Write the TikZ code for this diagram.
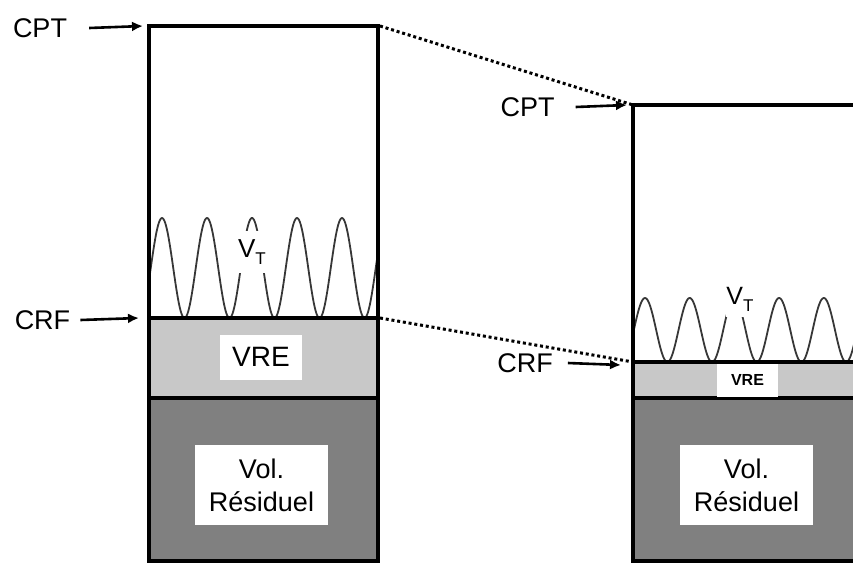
\documentclass[tikz,border=0pt]{standalone}
\usepackage{fontspec}
\setmainfont{Liberation Sans}
\usetikzlibrary{arrows.meta}
\definecolor{vregray}{RGB}{200,200,200}
\definecolor{resgray}{RGB}{128,128,128}
\definecolor{wavegray}{RGB}{55,55,55}
\newcommand{\VT}{V\raisebox{-7pt}{\fontsize{17}{17}\selectfont T}}
\begin{document}
\begin{tikzpicture}[x=1pt,y=-1pt,
  boxline/.style={line width=3.4pt, black},
  lbl/.style={font=\fontsize{27}{30}\selectfont, inner sep=0pt},
  arr/.style={line width=2.6pt, -{Latex[length=11pt,width=10pt]}},
  dotline/.style={line width=3pt, dash pattern=on 3pt off 2.8pt},
  wave/.style={line width=1.8pt, wavegray},
  whitebox/.style={fill=white, inner sep=0pt}]
\useasboundingbox (0,0) rectangle (853,563);

% ---------- left column ----------
\coordinate (LTL) at (149,26);
\coordinate (LTR) at (378,26);
\coordinate (LCL) at (149,318);
\coordinate (LCR) at (378,318);
\coordinate (LML) at (149,398);
\coordinate (LMR) at (378,398);
\coordinate (LBL) at (149,561);
\coordinate (LBR) at (378,561);

\fill[vregray] (LCL) rectangle (LMR);
\fill[resgray] (LML) rectangle (LBR);
\draw[wave] plot[domain=149:378, samples=300] (\x, {268-50*cos(8*(\x-162))});

\node[whitebox, minimum width=32, minimum height=42, font=\fontsize{26}{26}\selectfont] (vtL) at (252,252) {\VT};

\draw[boxline] (LBL) -- (LTL) -- (LTR) -- (LBR) -- cycle;
\draw[boxline] (LCL) -- (LCR);
\draw[boxline] (LML) -- (LMR);

\node[whitebox, minimum width=82, minimum height=45, font=\fontsize{28}{30}\selectfont] (vreL) at (261,357) {VRE};
\node[whitebox, minimum width=133, minimum height=80, align=center, font=\fontsize{27}{33}\selectfont] (resL) at (261.5,485) {Vol.\\Résiduel};

\node[lbl] (cptL) at (40,28) {CPT};
\node[lbl] (crfL) at (42.5,320) {CRF};
\draw[arr] ([xshift=22pt]cptL.east) -- ([xshift=-6pt]LTL);
\draw[arr] ([xshift=10pt]crfL.east) -- ([xshift=-10pt]LCL);

% ---------- right column ----------
\coordinate (RTL) at (633,105);
\coordinate (RTR) at (858,105);
\coordinate (RCL) at (633,362);
\coordinate (RCR) at (858,362);
\coordinate (RML) at (633,398);
\coordinate (RMR) at (858,398);
\coordinate (RBL) at (633,561);
\coordinate (RBR) at (858,561);

\fill[vregray] (RCL) rectangle (RMR);
\fill[resgray] (RML) rectangle (RBR);
\draw[wave] plot[domain=633:858, samples=300] (\x, {330-32*cos(8.054*(\x-645))});

\node[whitebox, minimum width=28, minimum height=36, font=\fontsize{25}{25}\selectfont] (vtR) at (740,299) {\VT};

\draw[boxline] (RBR) -- (RBL) -- (RTL) -- (RTR);
\draw[boxline] (RCL) -- (RCR);
\draw[boxline] (RML) -- (RMR);

\node[whitebox, minimum width=61, minimum height=33, font=\bfseries\fontsize{16}{18}\selectfont] (vreR) at (747.5,380) {VRE};
\node[whitebox, minimum width=133, minimum height=80, align=center, font=\fontsize{27}{33}\selectfont] (resR) at (746.5,485) {Vol.\\Résiduel};

\node[lbl] (cptR) at (527.5,107) {CPT};
\node[lbl] (crfR) at (525,363) {CRF};
\draw[arr] ([xshift=21pt]cptR.east) -- ([xshift=-6pt]RTL);
\draw[arr] ([xshift=15pt]crfR.east) -- ([xshift=-12pt,yshift=-3pt]RCL);

% ---------- dotted links ----------
\draw[dotline] ([xshift=2pt]LTR) -- (RTL);
\draw[dotline] ([xshift=2pt]LCR) -- (RCL);
\end{tikzpicture}
\end{document}
